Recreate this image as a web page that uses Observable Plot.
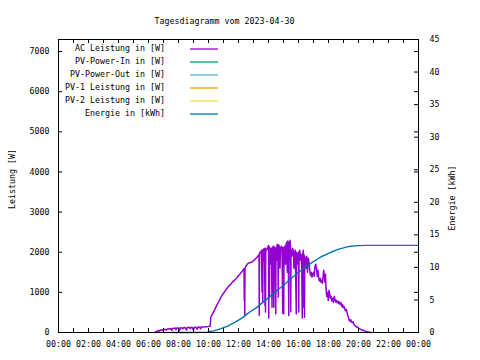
<!DOCTYPE html>
<html><head><meta charset="utf-8">
<script src="https://cdn.jsdelivr.net/npm/d3@7"></script>
<script src="https://cdn.jsdelivr.net/npm/@observablehq/plot@0.6"></script>
<style>
html,body{margin:0;padding:0;background:#fff;}
#chart{position:relative;width:480px;height:360px;}
</style></head><body><div id="chart"></div>
<script>
const title = "Tagesdiagramm vom 2023-04-30";
const yLabel = "Leistung [W]";
const y2Label = "Energie [kWh]";
const seriesNames = ["AC Leistung in [W]","PV-Power-In in [W]","PV-Power-Out in [W]","PV-1 Leistung in [W]","PV-2 Leistung in [W]","Energie in [kWh]"];
const seriesColors = ["#9400d3","#009e73","#56b4e9","#e69f00","#f0e442","#0072b2"];
const xTicks = [0,2,4,6,8,10,12,14,16,18,20,22,24];
const xMinorTicks = [0,1,2,3,4,5,6,7,8,9,10,11,12,13,14,15,16,17,18,19,20,21,22,23,24];
const yTicks = [0,1000,2000,3000,4000,5000,6000,7000];
const y2Ticks = [0,5,10,15,20,25,30,35,40,45];
const yMax = 7300, y2Max = 45;

const acTime = ["06:25","06:28","06:32","06:35","06:40","06:43","06:46","06:50","06:55","06:58","07:02","07:07","07:12","07:15","07:20","07:25","07:30","07:33","07:36","07:42","07:47","07:50","07:53","08:00","08:04","08:07","08:12","08:17","08:20","08:27","08:32","08:35","08:42","08:47","08:50","08:55","09:00","09:03","09:10","09:15","09:18","09:25","09:28","09:31","09:40","09:50","10:00","10:07","10:09","10:14","10:20","10:25","10:30","10:35","10:40","10:45","10:50","10:55","11:00","11:05","11:10","11:15","11:20","11:25","11:30","11:35","11:40","11:45","11:50","11:55","12:00","12:05","12:10","12:15","12:20","12:22","12:23","12:24","12:25","12:26","12:30","12:35","12:40","12:45","12:50","12:55","13:00","13:05","13:10","13:15","13:20","13:22","13:23","13:24",
"13:26","13:28","13:30","13:32","13:34","13:35","13:37","13:38","13:40","13:42","13:44","13:46","13:47","13:48","13:49","13:52","13:55","13:58","14:00","14:01","14:02","14:04","14:05","14:08","14:10","14:12","14:14","14:15","14:18","14:21","14:22","14:24","14:26","14:29","14:30","14:32","14:34","14:37","14:39","14:40","14:43","14:46","14:48","14:51","14:54","14:57","14:58","15:00","15:01","15:02","15:05","15:08","15:10","15:13","15:15","15:17","15:19","15:21","15:22","15:24","15:26","15:28","15:29","15:30","15:33","15:36","15:39","15:42","15:44","15:47","15:51","15:52","15:55","15:58","16:00","16:01","16:02","16:05","16:08","16:10","16:13","16:15","16:16","16:19","16:21","16:22","16:24","16:25","16:28","16:30","16:33","16:36","16:39","16:42","16:45","16:48","16:51","16:54","16:57","17:00","17:03","17:06","17:09","17:12","17:15","17:18","17:21","17:24","17:27","17:30","17:33","17:36","17:39","17:41","17:43","17:46","17:48","17:50","17:53","17:56","17:59","18:02","18:05","18:08","18:11","18:14","18:17","18:20","18:23","18:26","18:29","18:32","18:35","18:38","18:41","18:44","18:47","18:50","18:53","18:56","18:59","19:02","19:05","19:08","19:11","19:14","19:17","19:20","19:23","19:26","19:29","19:32","19:35","19:38","19:41","19:44","19:47","19:50","19:53","19:56","20:00","20:04","20:08","20:12","20:16","20:20","20:24","20:28","20:32","20:36","20:40","20:45","20:50"];
const acWatt = [0,20,10,40,50,20,60,55,70,40,75,80,60,90,85,95,100,50,100,105,110,70,110,115,40,115,120,90,120,125,60,125,130,100,130,125,60,130,130,80,135,130,90,135,140,145,150,160,380,440,510,570,640,700,760,820,880,930,980,1020,1070,1110,1150,1180,1210,1250,1280,1310,1340,1370,1420,1450,1490,1530,1570,1590,800,1580,420,1600,1660,1700,1730,1740,1750,1760,1790,1820,1850,1880,1920,1950,430,1960,
2000,1980,2020,2050,1010,2040,760,2060,2080,1800,2090,675,2100,510,2080,2050,2100,2130,2170,360,2150,880,2120,2080,1700,2100,630,2080,2140,630,2150,1500,2120,470,2100,1800,2180,2200,880,2180,2150,1600,2100,2150,2120,475,2100,2120,470,2060,2150,1700,2200,2250,1500,2280,2200,425,2250,1800,2300,2150,520,2050,1900,2100,2050,1600,2000,2050,470,2000,1950,1700,2000,510,1980,2050,1800,1950,1600,360,1900,2050,630,1950,380,1900,1750,1600,1900,1500,1850,1750,1550,1420,1500,1380,1450,1500,1400,1650,1700,1600,1400,1550,1350,1280,1350,1250,1300,1230,1450,1550,1400,1250,1450,1100,900,1000,800,1050,950,850,900,780,850,750,900,820,760,800,740,780,720,760,700,740,650,700,620,650,580,540,580,500,420,380,300,280,320,260,250,270,220,180,170,150,130,140,110,90,80,70,50,60,40,30,20,10,15,5,0];

const enTime = ["07:35","09:00","09:55","10:05","10:20","10:35","10:50","11:00","11:15","11:30","11:45","12:00","12:15","12:30","12:45","13:00","13:15","13:30","13:45","14:00","14:15","14:30","14:45","15:00","15:15","15:30","15:45","16:00","16:15","16:30","16:45","17:00","17:15","17:30","17:45","18:00","18:15","18:30","18:45","19:00","19:15","19:30","19:45","20:00","20:30","24:00"];
const enKWh = [0,0,0.05,0.15,0.25,0.4,0.6,0.75,0.95,1.25,1.55,1.9,2.25,2.7,3.15,3.5,3.9,4.4,4.9,5.35,5.85,6.3,6.8,7.25,7.75,8.3,8.75,9.25,9.7,10.1,10.5,10.9,11.25,11.6,11.9,12.15,12.4,12.65,12.85,13.0,13.15,13.25,13.3,13.35,13.38,13.38];

const W = 480, H = 360, mL = 58, mR = 62, mT = 39, mB = 28;
const k = yMax / y2Max;
const hPerPx = 24 / (W - mL - mR);
const wPerPx = yMax / (H - mT - mB);
const tick = 4;
const font = "'DejaVu Sans Mono', monospace";
const hrs = t => { const [a, b] = t.split(":").map(Number); return a + b / 60; };
const ac = acTime.map((t, i) => ({h: hrs(t), v: acWatt[i]}));
const en = enTime.map((t, i) => ({h: hrs(t), v: enKWh[i] * k}));
const fmtH = h => String(h % 24).padStart(2, "0") + ":00";

const chart = Plot.plot({
  width: W, height: H,
  marginLeft: mL, marginRight: mR, marginTop: mT, marginBottom: mB,
  style: {fontFamily: font, fontSize: "8.3px", background: "#fff", color: "#000"},
  x: {domain: [0, 24]},
  y: {domain: [0, yMax]},
  marks: [
    Plot.line(ac, {x: "h", y: "v", stroke: seriesColors[0], strokeWidth: 1.5}),
    Plot.line(en, {x: "h", y: "v", stroke: seriesColors[5], strokeWidth: 1.4}),
    Plot.ruleX(xMinorTicks, {x: d => d, y1: 0, y2: tick * wPerPx, stroke: "#000"}),
    Plot.ruleX(xMinorTicks, {x: d => d, y1: yMax - tick * wPerPx, y2: yMax, stroke: "#000"}),
    Plot.ruleY(yTicks, {y: d => d, x1: 0, x2: tick * hPerPx, stroke: "#000"}),
    Plot.ruleY(yTicks, {y: d => d, x1: 24 - tick * hPerPx, x2: 24, stroke: "#000"}),
    Plot.ruleY(y2Ticks, {y: d => d * k, x1: 24 - tick * hPerPx, x2: 24, stroke: "#000"}),
    Plot.frame({stroke: "#000"}),
    Plot.axisX({ticks: xTicks, tickSize: 0, tickPadding: 9, tickFormat: fmtH, label: null}),
    Plot.axisY({anchor: "left", ticks: yTicks, tickSize: 0, tickPadding: 9, tickFormat: d => String(d), label: null}),
    Plot.axisY({anchor: "right", ticks: y2Ticks.map(v => v * k), tickSize: 0, tickPadding: 11, tickFormat: v => String(Math.round(v / k)), label: null}),
    Plot.text([title], {frameAnchor: "top", dx: -14, dy: -21, text: d => d, fill: "#000", textAnchor: "middle"}),
    Plot.text([yLabel], {frameAnchor: "left", dx: -46, dy: -7, rotate: -90, text: d => d, fill: "#000", textAnchor: "middle"}),
    Plot.text([y2Label], {frameAnchor: "right", dx: 34, dy: 12, rotate: -90, text: d => d, fill: "#000", textAnchor: "middle"})
  ]
});
document.getElementById("chart").appendChild(chart);

// legend inside the frame (top-left), like gnuplot's key
const svg = d3.select(chart);
const lg = svg.append("g").attr("font-family", font).attr("font-size", "8.3px");
seriesNames.forEach((name, i) => {
  const y = mT + 9.5 + 13 * i;
  lg.append("text").attr("x", 165).attr("y", y).attr("dy", "0.35em")
    .attr("text-anchor", "end").attr("fill", "#000").text(name);
  lg.append("line").attr("x1", 190).attr("x2", 218).attr("y1", y + 0.5).attr("y2", y + 0.5)
    .attr("stroke", seriesColors[i]).attr("stroke-width", 1.3);
});
</script>
</body></html>
